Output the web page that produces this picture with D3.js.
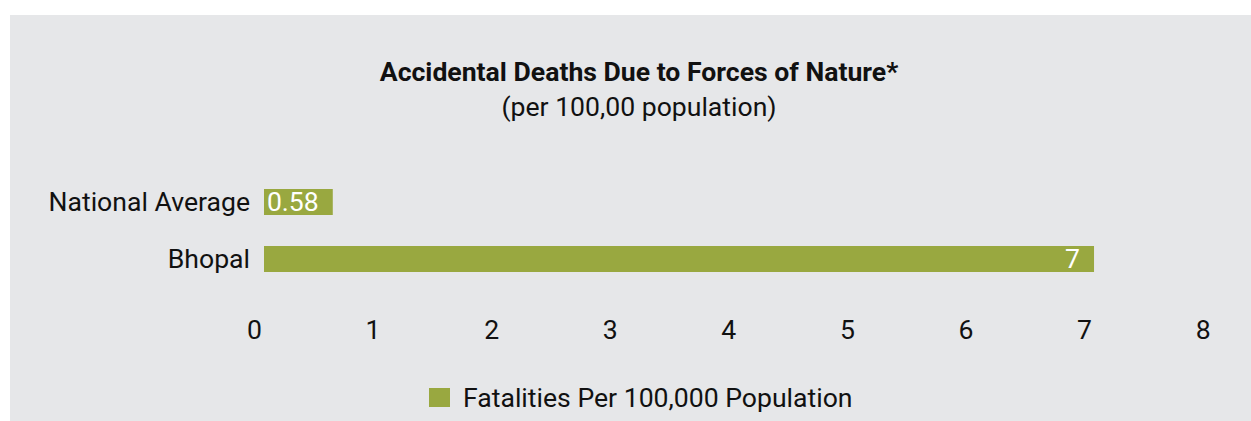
<!DOCTYPE html>
<html>
<head>
<meta charset="utf-8">
<script src="https://cdn.jsdelivr.net/npm/d3@7"></script>
<style>
    body { margin: 0; background: #ffffff; }
    svg text { font-family: Roboto, "Noto Sans", sans-serif; fill: #111111; }
</style>
</head>
<body>
<div id="chart"></div>
<script>
// chart data
const categories = ["National Average", "Bhopal"];
const fatalities = [0.58, 7];
const valueLabels = ["0.58", "7"];
const xTicks = [0, 1, 2, 3, 4, 5, 6, 7, 8];
const seriesName = "Fatalities Per 100,000 Population";
const title = "Accidental Deaths Due to Forces of Nature*";
const subtitle = "(per 100,00 population)";

const chart = {
    "width": 1251,
    "height": 421,
    "font_size": "26.6px",
    "bar_color": "#99a840",
    "bg_color": "#e6e7e9"
};

let svg = d3.select('#chart')
    .append('svg')
    .attr('width', chart.width)
    .attr('height', chart.height);

svg.append('rect')
    .attr('x', 10)
    .attr('y', 15)
    .attr('width', chart.width - 10)
    .attr('height', chart.height - 15)
    .style('fill', chart.bg_color);

// titles
svg.append('text')
    .attr('x', 639)
    .attr('y', 81)
    .attr('text-anchor', 'middle')
    .style('font-size', chart.font_size)
    .style('font-weight', 'bold')
    .text(title);

svg.append('text')
    .attr('x', 639)
    .attr('y', 116)
    .attr('text-anchor', 'middle')
    .style('font-size', chart.font_size)
    .text(subtitle);

let xScale = d3.scaleLinear()
    .domain([0, 8])
    .range([264, 1212.6]);

let yScale = d3.scaleBand()
    .domain(categories)
    .range([173.5, 287.5])
    .paddingInner(31 / 57)
    .paddingOuter(31 / 114);

let rows = categories.map((c, i) => ({ category: c, value: fatalities[i], label: valueLabels[i] }));

// bars
svg.append('g')
    .selectAll('rect')
    .data(rows)
    .join('rect')
        .attr('x', xScale(0))
        .attr('y', d => yScale(d.category))
        .attr('width', d => xScale(d.value) - xScale(0))
        .attr('height', yScale.bandwidth())
        .style('fill', chart.bar_color);

// value labels inside bars
svg.append('g')
    .selectAll('text')
    .data(rows)
    .join('text')
        .attr('x', d => xScale(d.value) - 14)
        .attr('y', d => yScale(d.category) + yScale.bandwidth() / 2)
        .attr('dy', '0.35em')
        .attr('text-anchor', 'end')
        .style('font-size', chart.font_size)
        .style('fill', '#ffffff')
        .text(d => d.label);

// category axis
let yAxis = d3.axisLeft(yScale).tickSize(0).tickPadding(14);
let yAxisG = svg.append('g')
    .attr('transform', `translate(${xScale(0)}, 0)`)
    .call(yAxis);
yAxisG.select('.domain').remove();
yAxisG.selectAll('text')
    .attr('dy', '0.35em')
    .style('font-size', chart.font_size)
    .style('font-family', 'Roboto, "Noto Sans", sans-serif')
    .style('fill', '#111111');

// value axis
let xAxis = d3.axisBottom(xScale).tickValues(xTicks).tickSize(0).tickPadding(3).tickFormat(d3.format('d'));
let xAxisG = svg.append('g')
    .attr('transform', 'translate(0, 317)')
    .call(xAxis);
xAxisG.select('.domain').remove();
xAxisG.selectAll('text')
    .attr('x', -10)
    .style('font-size', chart.font_size)
    .style('font-family', 'Roboto, "Noto Sans", sans-serif')
    .style('fill', '#111111');

// legend
let legend = svg.append('g')
    .attr('transform', 'translate(429, 388)');

legend.append('rect')
    .attr('width', 21)
    .attr('height', 19)
    .style('fill', chart.bar_color);

legend.append('text')
    .attr('x', 34)
    .attr('y', 19)
    .style('font-size', chart.font_size)
    .text(seriesName);
</script>
</body>
</html>
